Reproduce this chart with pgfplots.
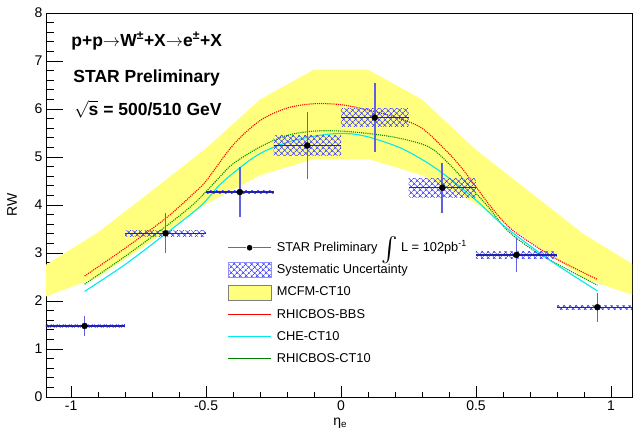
\documentclass[border=0pt]{standalone}
\usepackage{fontspec}
\setmainfont{Liberation Sans}
\usepackage{graphicx}
\usepackage{pgfplots}
\usepackage{pgfplotstable}
\pgfplotsset{compat=1.18}
\usetikzlibrary{patterns.meta}
\definecolor{bandyellow}{RGB}{255,255,125}
\definecolor{errnavy}{RGB}{35,35,170}
\definecolor{errblue}{RGB}{95,95,225}
\definecolor{hatchblue}{RGB}{70,70,255}
\definecolor{curvered}{RGB}{255,0,0}
\definecolor{curvegreen}{RGB}{0,150,0}
\definecolor{curvecyan}{RGB}{0,235,235}
\tikzset{syst/.style={pattern={Hatch[angle=45,distance=4pt,line width=0.7pt]}, pattern color=hatchblue, draw=none}}

\pgfplotstableread{
x      y     ex     ey
-0.95  1.48  0.15   0.21
-0.65  3.41  0.15   0.42
-0.375 4.27  0.125  0.52
-0.125 5.24  0.125  0.69
0.125  5.82  0.125  0.72
0.375  4.36  0.125  0.52
0.65   2.96  0.15   0.35
0.95   1.87  0.15   0.30
}\stardata

\begin{document}
\begin{tikzpicture}
\path[use as bounding box] (-46pt,-35pt) rectangle (588pt,397pt);
\begin{axis}[
  at={(0pt,0pt)}, anchor=south west,
  scale only axis, width=586pt, height=384pt,
  xmin=-1.093, xmax=1.078, ymin=0, ymax=8,
  xtick={-1,-0.5,0,0.5,1}, ytick={0,1,2,3,4,5,6,7,8},
  minor x tick num=4, minor y tick num=4,
  xtick pos=bottom, ytick pos=left, tick align=inside,
  xtick style={/pgfplots/major tick length=11pt, /pgfplots/minor tick length=5.5pt, line width=0.8pt, black},
  ytick style={/pgfplots/major tick length=17pt, /pgfplots/minor tick length=8.5pt, line width=0.8pt, black},
  axis line style={line width=0.9pt},
  /pgf/number format/assume math mode=true,
  tick label style={font=\fontsize{14}{16}\selectfont},
  xlabel={η\textsubscript{e}},
  ylabel={RW},
  label style={font=\fontsize{14}{16}\selectfont},
  xlabel style={at={(rel axis cs:0.502,-0.068)}, anchor=center},
  ylabel style={at={(rel axis cs:-0.058,0.5)}, anchor=center},
  legend style={at={(rel axis cs:0.304,0.414)}, anchor=north west, draw=none, fill=none,
    font=\fontsize{12.8}{14}\selectfont, row sep=7pt, column sep=4pt,
    nodes={inner sep=1pt, text height=10pt, text depth=3pt}},
  legend cell align=left,
]
% ---- legend entries (order as in reference) ----
\addlegendimage{color=errblue, legend image code/.code={
  \draw[color=errblue, line width=1.5pt] (0pt,0pt) -- (18pt,0pt);
  \draw[color=errblue, line width=1.5pt] (25pt,0pt) -- (43pt,0pt);
  \fill[black] (21.5pt,0pt) circle (2.6pt);}}
\addlegendentry{STAR Preliminary \raisebox{-6pt}[0pt][0pt]{\resizebox{!}{21pt}{$\int$}} L = 102pb\textsuperscript{-1}}
\addlegendimage{legend image code/.code={
  \fill[pattern={Hatch[angle=45,distance=4pt,line width=0.7pt]}, pattern color=hatchblue] (0pt,-7.5pt) rectangle (43pt,7.5pt);
  \draw[hatchblue!60, line width=0.4pt] (0pt,-7.5pt) rectangle (43pt,7.5pt);}}
\addlegendentry{Systematic Uncertainty}
\addlegendimage{legend image code/.code={
  \filldraw[fill=bandyellow, draw=gray, line width=0.6pt] (0pt,-7.5pt) rectangle (43pt,7.5pt);}}
\addlegendentry{MCFM-CT10}
\addlegendimage{legend image code/.code={
  \draw[draw=curvered, line width=1.1pt] (0pt,0pt) -- (43pt,0pt);}}
\addlegendentry{RHICBOS-BBS}
\addlegendimage{legend image code/.code={
  \draw[draw=curvecyan, line width=1.1pt] (0pt,0pt) -- (43pt,0pt);}}
\addlegendentry{CHE-CT10}
\addlegendimage{legend image code/.code={
  \draw[draw=curvegreen!85!black, line width=1.1pt] (0pt,0pt) -- (43pt,0pt);}}
\addlegendentry{RHICBOS-CT10}

% ---- MCFM-CT10 band ----
\addplot[fill=bandyellow, draw=none, forget plot] coordinates {
  (-1.1,2.73) (-0.9,3.43) (-0.7,4.30) (-0.5,5.18) (-0.3,6.20) (-0.1,6.82)
  (0.1,6.82) (0.3,6.20) (0.5,5.15) (0.7,4.27) (0.9,3.39) (1.1,2.70)
  (1.1,2.09) (0.9,2.47) (0.7,3.25) (0.5,4.03) (0.3,4.62) (0.1,4.96)
  (-0.1,4.96) (-0.3,4.62) (-0.5,4.02) (-0.7,3.25) (-0.9,2.50) (-1.1,2.08)
} -- cycle;

% ---- theory curves ----
\addplot[curvered, densely dotted, line width=1.1pt, smooth, forget plot] coordinates {
  (-0.95,2.52) (-0.8,3.10) (-0.65,3.72) (-0.55,4.22) (-0.5,4.50) (-0.4,5.25)
  (-0.3,5.76) (-0.2,6.02) (-0.1,6.11) (0,6.09) (0.1,5.98) (0.2,5.83)
  (0.3,5.60) (0.4,5.07) (0.45,4.75) (0.5,4.38) (0.55,4.00) (0.62,3.55)
  (0.7,3.22) (0.8,2.87) (0.95,2.45)
};
\addplot[curvegreen, densely dotted, line width=1.1pt, smooth, forget plot] coordinates {
  (-0.95,2.35) (-0.8,2.93) (-0.65,3.55) (-0.55,4.00) (-0.5,4.28) (-0.45,4.58)
  (-0.4,4.86) (-0.3,5.21) (-0.2,5.45) (-0.1,5.54) (0,5.54) (0.1,5.49)
  (0.2,5.41) (0.3,5.27) (0.35,5.12) (0.41,4.80) (0.48,4.37) (0.55,3.93)
  (0.62,3.45) (0.74,2.96) (0.95,2.33)
};
\addplot[curvecyan, line width=1.1pt, smooth, forget plot] coordinates {
  (-0.95,2.20) (-0.8,2.76) (-0.65,3.40) (-0.52,3.98) (-0.44,4.47) (-0.31,5.04)
  (-0.19,5.32) (-0.07,5.46) (0.02,5.49) (0.1,5.42) (0.22,5.19) (0.32,4.88)
  (0.41,4.52) (0.5,4.10) (0.55,3.84) (0.6,3.58) (0.7,3.15) (0.8,2.75)
  (0.95,2.21)
};

% ---- systematic uncertainty boxes ----
\addplot[syst, forget plot] coordinates {(-1.1,1.44) (-0.8,1.44) (-0.8,1.52) (-1.1,1.52)} -- cycle;
\addplot[syst, forget plot] coordinates {(-0.8,3.35) (-0.5,3.35) (-0.5,3.46) (-0.8,3.46)} -- cycle;
\addplot[syst, forget plot] coordinates {(-0.5,4.23) (-0.25,4.23) (-0.25,4.31) (-0.5,4.31)} -- cycle;
\addplot[syst, forget plot] coordinates {(-0.25,5.03) (0,5.03) (0,5.45) (-0.25,5.45)} -- cycle;
\addplot[syst, forget plot] coordinates {(0,5.63) (0.25,5.63) (0.25,6.01) (0,6.01)} -- cycle;
\addplot[syst, forget plot] coordinates {(0.25,4.16) (0.5,4.16) (0.5,4.56) (0.25,4.56)} -- cycle;
\addplot[syst, forget plot] coordinates {(0.5,2.89) (0.8,2.89) (0.8,3.03) (0.5,3.03)} -- cycle;
\addplot[syst, forget plot] coordinates {(0.8,1.83) (1.1,1.83) (1.1,1.91) (0.8,1.91)} -- cycle;

% ---- STAR data: statistical error bars ----
\addplot[draw=none, mark=none, forget plot,
  error bars/.cd, y dir=both, y explicit,
  error mark=none, error bar style={draw=errblue, line width=1.5pt}]
  table[x=x, y=y, y error=ey] {\stardata};
\addplot[draw=none, mark=none, forget plot,
  error bars/.cd, x dir=both, x explicit,
  error mark=none, error bar style={draw=errnavy, line width=1.4pt}]
  table[x=x, y=y, x error=ex] {\stardata};
\addplot[only marks, mark=*, mark size=3pt, mark options={fill=black, draw=black}, forget plot]
  table[x=x, y=y] {\stardata};

% ---- text ----
\node[anchor=base west, inner sep=0pt, font=\fontsize{17.5}{20}\selectfont\bfseries] at (rel axis cs:0.043,0.914)
  {p+p$\rightarrow$W\textsuperscript{±}+X$\rightarrow$e\textsuperscript{±}+X};
\node[anchor=base west, inner sep=0pt, font=\fontsize{17.5}{20}\selectfont\bfseries] at (rel axis cs:0.0465,0.819)
  {STAR Preliminary};
\node[anchor=base west, inner sep=0pt, font=\fontsize{17.5}{20}\selectfont\bfseries] at (rel axis cs:0.048,0.734)
  {$\sqrt{\mbox{\bfseries s}}$ = 500/510 GeV};
\end{axis}
\end{tikzpicture}
\end{document}
